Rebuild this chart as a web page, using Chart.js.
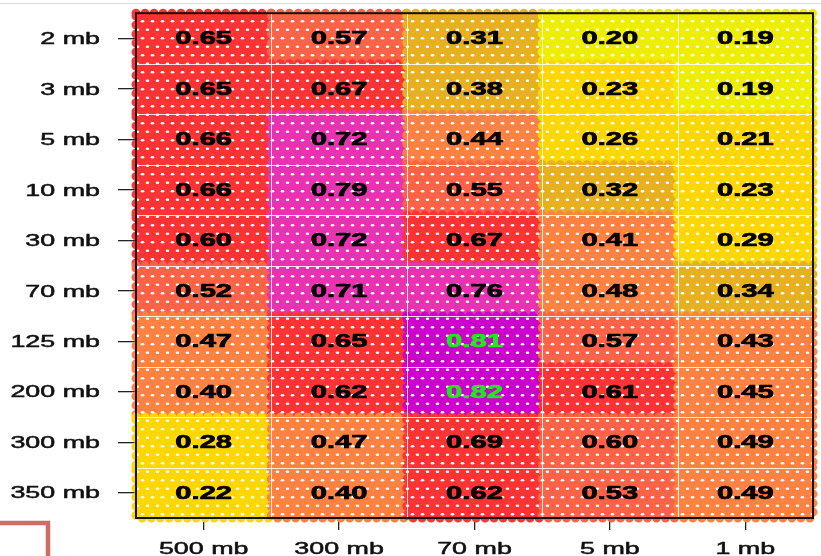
<!DOCTYPE html>
<html>
<head>
<meta charset="utf-8">
<script src="https://cdn.jsdelivr.net/npm/chart.js@4/dist/chart.umd.min.js"></script>
<style>
  html, body { margin: 0; padding: 0; background: #ffffff; }
  #wrap { width: 821px; height: 556px; }
</style>
</head>
<body>
<div id="wrap"><canvas id="c" width="821" height="556"></canvas></div>
<script>
// ---- data ----
const columns = ['500 mb', '300 mb', '70 mb', '5 mb', '1 mb'];
const levels = ['2 mb', '3 mb', '5 mb', '10 mb', '30 mb', '70 mb', '125 mb', '200 mb', '300 mb', '350 mb'];
const at500mb = [0.65, 0.65, 0.66, 0.66, 0.602, 0.52, 0.47, 0.40, 0.28, 0.22];
const at300mb = [0.57, 0.67, 0.72, 0.79, 0.72, 0.71, 0.65, 0.62, 0.47, 0.40];
const at70mb  = [0.31, 0.38, 0.44, 0.55, 0.67, 0.76, 0.81, 0.82, 0.69, 0.62];
const at5mb   = [0.20, 0.23, 0.26, 0.32, 0.41, 0.48, 0.57, 0.61, 0.598, 0.53];
const at1mb   = [0.19, 0.19, 0.21, 0.23, 0.29, 0.34, 0.43, 0.45, 0.49, 0.49];
const colourBreaks = [0.205, 0.30, 0.40, 0.50, 0.60, 0.70, 0.80];
const colourSteps = ['#eeee00', '#ffd700', '#e6b020', '#ff8242', '#ff6347', '#ff3333', '#e832b2', '#cc00cc'];

const seriesByColumn = [at500mb, at300mb, at70mb, at5mb, at1mb];
function cellValue(row, col) { return seriesByColumn[col][row]; }
function colourFor(v) {
  let i = 0;
  while (i < colourBreaks.length && v >= colourBreaks[i]) i++;
  return colourSteps[i];
}

const SX = 1.58; // horizontal text stretch seen in the reference

// dotted fill pattern
const pc = document.createElement('canvas');
pc.width = 10; pc.height = 17;
const pctx = pc.getContext('2d');
pctx.fillStyle = '#ffffff';
pctx.beginPath(); pctx.ellipse(2.5, 4.2, 1.8, 1.25, 0, 0, Math.PI * 2); pctx.fill();
pctx.beginPath(); pctx.ellipse(7.5, 12.7, 1.8, 1.25, 0, 0, Math.PI * 2); pctx.fill();

function stretchText(ctx, txt, x, y, align, font, color, sx, weight) {
  ctx.save();
  ctx.translate(x, y);
  ctx.scale(sx, 1);
  ctx.font = font;
  ctx.textAlign = align;
  ctx.textBaseline = 'middle';
  ctx.fillStyle = color;
  ctx.fillText(txt, 0, 0);
  if (weight) {
    ctx.strokeStyle = color;
    ctx.lineWidth = weight;
    ctx.lineJoin = 'round';
    ctx.strokeText(txt, 0, 0);
  }
  ctx.restore();
}

const heatPlugin = {
  id: 'heat',
  afterDatasetsDraw(chart) {
    const ctx = chart.ctx;
    const ca = chart.chartArea;
    const cells = [];
    chart.data.datasets.forEach((ds, r) => {
      chart.getDatasetMeta(r).data.forEach((el, c) => {
        const p = el.getProps(['x', 'y', 'base', 'width'], true);
        const top = Math.min(p.y, p.base), bot = Math.max(p.y, p.base);
        cells.push({ r, c, l: p.x - p.width / 2, t: top, w: p.width, h: bot - top, cx: p.x, cy: (top + bot) / 2 });
      });
    });
    // fills with scalloped edges, in drawing order
    ctx.save();
    cells.forEach(cell => {
      const col = colourFor(cellValue(cell.r, cell.c));
      ctx.fillStyle = col;
      ctx.fillRect(cell.l, cell.t, cell.w, cell.h);
      ctx.strokeStyle = col;
      ctx.lineWidth = 9;
      ctx.lineCap = 'round';
      ctx.setLineDash([0, 9]);
      ctx.strokeRect(cell.l, cell.t, cell.w, cell.h);
    });
    ctx.restore();
    // dot pattern
    ctx.save();
    ctx.beginPath();
    ctx.rect(ca.left, ca.top, ca.right - ca.left, ca.bottom - ca.top);
    ctx.clip();
    ctx.fillStyle = ctx.createPattern(pc, 'repeat');
    ctx.fillRect(ca.left, ca.top, ca.right - ca.left, ca.bottom - ca.top);
    // white cell boundaries
    ctx.strokeStyle = 'rgba(255,255,255,0.85)';
    ctx.lineWidth = 1;
    const xs = chart.scales.x, ys = chart.scales.y;
    for (let i = 1; i < columns.length; i++) {
      const px = Math.round((xs.getPixelForTick(i - 1) + xs.getPixelForTick(i)) / 2) + 0.5;
      ctx.beginPath(); ctx.moveTo(px, ca.top); ctx.lineTo(px, ca.bottom); ctx.stroke();
    }
    for (let k = 1; k < levels.length; k++) {
      const py = Math.round(ys.getPixelForValue(k)) + 0.5;
      ctx.beginPath(); ctx.moveTo(ca.left, py); ctx.lineTo(ca.right, py); ctx.stroke();
    }
    ctx.restore();
    // value labels
    cells.forEach(cell => {
      const v = cellValue(cell.r, cell.c);
      stretchText(ctx, v.toFixed(2), cell.cx, cell.cy + 1, 'center',
        'bold 18px "Liberation Sans", Arial, sans-serif', v > 0.8 ? '#22e622' : '#000000', 1.62, 0.7);
    });
  },
  afterDraw(chart) {
    const ctx = chart.ctx;
    const ca = chart.chartArea;
    const xs = chart.scales.x, ys = chart.scales.y;
    // frame
    ctx.save();
    ctx.strokeStyle = '#111111';
    ctx.lineWidth = 2;
    ctx.strokeRect(ca.left, ca.top, ca.right - ca.left, ca.bottom - ca.top);
    ctx.restore();
    // tick labels
    ys.ticks.forEach(t => {
      stretchText(ctx, t.label, ca.left - 36, ys.getPixelForValue(t.value) + 1, 'right',
        '17px "Liberation Sans", Arial, sans-serif', '#111111', SX, 0.5);
    });
    xs.ticks.forEach((t, i) => {
      stretchText(ctx, xs.getLabelForValue(t.value), xs.getPixelForTick(i), ca.bottom + 31, 'center',
        '17px "Liberation Sans", Arial, sans-serif', '#111111', SX, 0.5);
    });
    // screenshot edge decorations
    ctx.save();
    ctx.strokeStyle = '#d9d9d9';
    ctx.lineWidth = 1;
    ctx.beginPath(); ctx.moveTo(0, 3.5); ctx.lineTo(chart.width, 3.5); ctx.stroke();
    ctx.strokeStyle = 'rgb(208,108,102)';
    ctx.lineWidth = 4.5;
    ctx.lineCap = 'butt';
    ctx.beginPath(); ctx.moveTo(0, 523); ctx.lineTo(48, 523); ctx.lineTo(48, chart.height); ctx.stroke();
    ctx.restore();
  }
};

new Chart(document.getElementById('c'), {
  type: 'bar',
  data: {
    labels: columns,
    datasets: levels.map((lvl, r) => ({
      label: lvl,
      data: columns.map(() => [r, r + 1]),
      backgroundColor: ctx => colourFor(cellValue(r, ctx.dataIndex)),
      borderWidth: 0,
      barPercentage: 1,
      categoryPercentage: 1,
      grouped: false
    }))
  },
  options: {
    responsive: false,
    animation: false,
    devicePixelRatio: 1,
    layout: { padding: { top: 12, right: 8, left: 0, bottom: 0 } },
    plugins: { legend: { display: false }, tooltip: { enabled: false } },
    scales: {
      x: {
        type: 'category',
        offset: true,
        border: { display: false },
        grid: { offset: false, drawOnChartArea: false, drawTicks: true, tickLength: 12, color: '#222222', lineWidth: 1.3 },
        ticks: { color: 'rgba(0,0,0,0)', font: { size: 17 }, maxRotation: 0 },
        afterFit: s => { s.height = 38; }
      },
      y: {
        type: 'linear',
        min: 0,
        max: 10,
        reverse: true,
        border: { display: false },
        grid: { drawOnChartArea: false, drawTicks: true, tickLength: 18, color: '#222222', lineWidth: 1.3 },
        ticks: { color: 'rgba(0,0,0,0)', font: { size: 17 }, autoSkip: false, callback: v => levels[Math.floor(v)] },
        afterBuildTicks: s => { s.ticks = levels.map((l, i) => ({ value: i + 0.5 })); },
        afterFit: s => { s.width = 136; }
      }
    }
  },
  plugins: [heatPlugin]
});
</script>
</body>
</html>
